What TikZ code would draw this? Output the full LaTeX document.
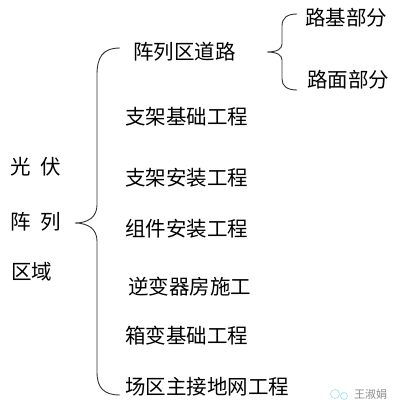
\documentclass[tikz,border=0pt]{standalone}
\usepackage{fontspec}
\setmainfont{Noto Sans CJK SC}
\begin{document}
\begin{tikzpicture}[x=1pt,y=-1pt,
  lbl/.style={anchor=west,inner sep=0pt,font=\fontsize{20.5}{22}\selectfont,text=black},
  bracel/.style={draw=black!80,line width=0.9pt},
  wm/.style={anchor=west,inner sep=0pt,font=\fontsize{11}{12}\selectfont,text=black!45}]
\useasboundingbox[fill=white] (0,0) rectangle (404,410);
% left labels
\node[lbl] (l1) at (10,167) {光\hspace{10pt}伏};
\node[lbl] (l2) at (10,222) {阵\hspace{10pt}列};
\node[lbl] (l3) at (11,272) {区域};
% big brace
\draw[bracel] (120,48) .. controls (102,48) and (97,58) .. (97,75)
  -- (97,205) .. controls (97,217) and (88,223) .. (75,223)
  .. controls (88,223) and (97,229) .. (97,241)
  -- (97,372) .. controls (97,388) and (104,395) .. (120,395);
\coordinate (bigtip) at (75,223);
% right items
\node[lbl] (r1) at (133,52) {阵列区道路};
\node[lbl] (r2) at (125,117) {支架基础工程};
\node[lbl] (r3) at (125,178) {支架安装工程};
\node[lbl] (r4) at (125,229) {组件安装工程};
\node[lbl] (r5) at (128,287) {逆变器房施工};
\node[lbl] (r6) at (125,336) {箱变基础工程};
\node[lbl] (r7) at (125,387) {场区主接地网工程};
% small brace
\draw[bracel] (297,14) .. controls (287,14) and (282,18) .. (282,26)
  -- (282,44) .. controls (282,49) and (277,52) .. (267,52)
  .. controls (277,52) and (282,55) .. (282,60)
  -- (282,79) .. controls (282,86) and (287,90) .. (297,90);
\node[lbl] (s1) at (305,18) {路基部分};
\node[lbl] (s2) at (307,80) {路面部分};
% watermark
\node[wm] (w) at (354,394) {王淑娟};
\draw[cyan!40,line width=0.6pt] (335,394) circle (4.5);
\draw[cyan!40,line width=0.6pt] (344,396) circle (3.5);
\end{tikzpicture}
\end{document}
